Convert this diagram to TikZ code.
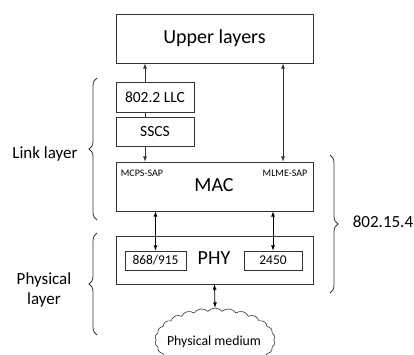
\documentclass[tikz,border=0pt]{standalone}
\usepackage{fontspec}
\setmainfont{Carlito}
\usetikzlibrary{shapes.symbols,decorations.pathreplacing}
\tikzset{
  layerbox/.style={draw=black!80, minimum width=197pt, minimum height=49pt, font=\fontsize{20}{24}\selectfont},
  subbox/.style={draw=black!80, font=\fontsize{15.5}{18}\selectfont},
  bandbox/.style={draw=black!80, minimum height=19pt, inner sep=0pt, font=\fontsize{13.4}{16}\selectfont},
  sap/.style={font=\fontsize{10}{12}\selectfont},
  layerlabel/.style={font=\fontsize{17}{20}\selectfont, align=center},
  layerbrace/.style={decorate, decoration={brace, amplitude=8pt}, draw=black!80},
}
\begin{document}
\begin{tikzpicture}[x=1pt, y=-1pt, >=latex, line width=0.8pt]
  \useasboundingbox (0,0) rectangle (414,354);
  % boxes
  \node[layerbox] (upper) at (214.5,38.5) {Upper layers};
  \node[subbox, minimum width=78pt, minimum height=30pt] (llc) at (155,97) {802.2 LLC};
  \node[subbox, minimum width=78pt, minimum height=29pt] (sscs) at (155,131.5) {SSCS};
  \node[layerbox] (mac) at (214.5,186.5) {};
  \node[font=\fontsize{20}{24}\selectfont] (maclabel) at (214,185) {MAC};
  \node[sap] (mcps) at (142,173) {MCPS-SAP};
  \node[sap] (mlme) at (285,173) {MLME-SAP};
  \node[layerbox, minimum height=48pt] (phy) at (214.5,260) {};
  \node[font=\fontsize{20}{24}\selectfont] (phylabel) at (214,258) {PHY};
  \node[bandbox, minimum width=61pt] (f868) at (155.5,260.5) {868/915};
  \node[bandbox, minimum width=58pt] (f2450) at (273,260.5) {2450};
  \node[cloud, draw=black!80, line width=0.6pt, cloud puffs=26, cloud puff arc=100, aspect=2,
        minimum width=120pt, minimum height=64pt, inner sep=0pt] (medium) at (215,340) {};
  \node[font=\fontsize{13.8}{16}\selectfont] (mediumlabel) at (214,342) {Physical medium};
  % arrows
  \coordinate (left) at (145,0);
  \coordinate (right) at (283,0);
  \draw[draw=black!80, ->] (llc.north -| left) -- (upper.south -| left);
  \draw[draw=black!80] (llc.south -| left) -- (sscs.north -| left);
  \draw[draw=black!80, ->] (sscs.south -| left) -- (mac.north -| left);
  \draw[draw=black!80, <->] (upper.south -| right) -- (mac.north -| right);
  \draw[<->] (mac.south -| f868) -- (f868.north);
  \draw[<->] (mac.south -| f2450) -- (f2450.north);
  \draw[<->] (phy.south) -- (medium.north);
  % braces
  \draw[layerbrace] (97,220) -- (97,78);
  \draw[layerbrace] (97,335) -- (97,233);
  \draw[layerbrace] (330,155) -- (330,293);
  \node[layerlabel] (link) at (45,154) {Link layer};
  \node[layerlabel] (physical) at (44,290) {Physical\\layer};
  \node[layerlabel] (ieee) at (383,222) {802.15.4};
\end{tikzpicture}
\end{document}
